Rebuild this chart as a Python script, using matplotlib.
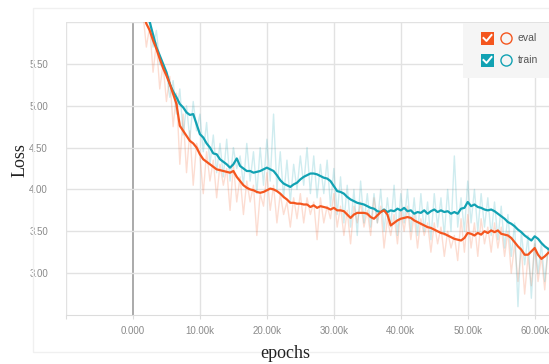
import matplotlib.pyplot as plt
from matplotlib.patches import Rectangle
from matplotlib.lines import Line2D
import numpy as np

# smoothed curves, one value every 0.5k steps
eval_start = 1.0
eval_y = [6.40, 6.12, 5.98, 5.90, 5.78, 5.68, 5.56, 5.45, 5.36, 5.26,
          5.14, 5.02, 4.76, 4.70, 4.64, 4.58, 4.55, 4.50, 4.42, 4.36,
          4.33, 4.30, 4.27, 4.24, 4.23, 4.22, 4.21, 4.20, 4.22, 4.15,
          4.10, 4.05, 4.02, 4.00, 3.99, 3.97, 3.96, 3.97, 3.99, 4.01,
          4.00, 3.98, 3.95, 3.91, 3.88, 3.84, 3.84, 3.83, 3.83, 3.82,
          3.82, 3.79, 3.81, 3.78, 3.80, 3.79, 3.78, 3.76, 3.78, 3.75,
          3.75, 3.74, 3.70, 3.66, 3.70, 3.72, 3.72, 3.72, 3.71, 3.67,
          3.65, 3.69, 3.73, 3.75, 3.70, 3.57, 3.60, 3.63, 3.65, 3.66,
          3.67, 3.66, 3.63, 3.61, 3.59, 3.57, 3.55, 3.54, 3.52, 3.50,
          3.48, 3.47, 3.45, 3.43, 3.41, 3.40, 3.39, 3.42, 3.48, 3.47,
          3.45, 3.48, 3.46, 3.50, 3.48, 3.51, 3.49, 3.51, 3.47, 3.46,
          3.45, 3.42, 3.37, 3.32, 3.28, 3.22, 3.22, 3.26, 3.30, 3.22,
          3.17, 3.20, 3.24, 3.27]

train_start = 2.0
train_y = [6.20, 6.00, 5.85, 5.70, 5.60, 5.50, 5.40, 5.26, 5.17, 5.10,
           5.02, 4.98, 4.92, 4.89, 4.90, 4.78, 4.66, 4.62, 4.55, 4.50,
           4.43, 4.42, 4.36, 4.33, 4.30, 4.26, 4.30, 4.37, 4.28, 4.25,
           4.22, 4.22, 4.20, 4.21, 4.22, 4.24, 4.26, 4.24, 4.22, 4.17,
           4.11, 4.07, 4.05, 4.03, 4.06, 4.08, 4.12, 4.15, 4.17, 4.19,
           4.19, 4.18, 4.16, 4.14, 4.13, 4.10, 4.04, 3.98, 3.97, 3.95,
           3.91, 3.88, 3.86, 3.84, 3.83, 3.82, 3.80, 3.78, 3.77, 3.74,
           3.73, 3.76, 3.73, 3.75, 3.74, 3.77, 3.75, 3.78, 3.74, 3.75,
           3.71, 3.73, 3.72, 3.75, 3.71, 3.74, 3.76, 3.73, 3.75, 3.73,
           3.74, 3.71, 3.73, 3.71, 3.77, 3.78, 3.85, 3.80, 3.82, 3.79,
           3.78, 3.76, 3.75, 3.76, 3.74, 3.71, 3.68, 3.65, 3.61, 3.59,
           3.56, 3.52, 3.49, 3.45, 3.42, 3.39, 3.44, 3.41, 3.36, 3.32,
           3.29, 3.26]

# raw (unsmoothed) values, every 0.5k steps from 0.5k
raw_start = 0.5
eval_raw = [6.6, 6.3, 6.1, 5.7, 5.95, 5.4, 5.75, 5.2, 5.5, 5.05,
            5.35, 4.75, 5.15, 4.3, 4.9, 4.2, 4.7, 4.05, 4.55, 4.4,
            3.95, 4.45, 4.1, 4.35, 3.9, 4.3, 4.05, 4.25, 3.75, 4.3,
            3.85, 4.15, 3.7, 4.1, 3.85, 4.05, 3.45, 3.95, 3.8, 4.2,
            3.75, 4.05, 3.6, 3.95, 3.7, 3.85, 3.55, 3.9, 3.65, 3.95,
            3.6, 3.9, 3.7, 3.85, 3.4, 3.9, 3.6, 3.8, 3.65, 3.95,
            3.55, 3.8, 3.45, 3.75, 3.35, 3.8, 3.6, 3.85, 3.55, 3.75,
            3.45, 3.9, 3.6, 3.8, 3.3, 3.65, 3.45, 3.7, 3.35, 3.75,
            3.5, 3.8, 3.4, 3.7, 3.3, 3.65, 3.45, 3.6, 3.25, 3.6,
            3.35, 3.55, 3.2, 3.5, 3.3, 3.45, 3.15, 3.65, 3.25, 3.7,
            3.3, 3.6, 3.2, 3.65, 3.35, 3.55, 3.25, 3.6, 3.3, 3.55,
            3.2, 3.5, 3.0, 3.35, 2.9, 3.3, 2.75, 3.2, 2.85, 3.35,
            2.9, 3.2, 2.8, 3.3]
train_raw = [6.7, 6.4, 6.35, 6.0, 6.1, 5.7, 5.9, 5.5, 5.45, 5.4,
             5.1, 5.3, 4.9, 5.2, 4.65, 5.0, 4.6, 5.05, 4.7, 4.9,
             4.45, 4.8, 4.3, 4.65, 4.2, 4.55, 4.15, 4.6, 4.1, 4.5,
             4.25, 4.4, 4.05, 4.55, 4.1, 4.45, 3.95, 4.5, 4.05, 4.6,
             4.1, 4.9, 4.0, 4.45, 3.9, 4.35, 3.85, 4.3, 4.0, 4.4,
             4.05, 4.5, 3.95, 4.4, 3.9, 4.3, 3.95, 4.35, 3.8, 4.25,
             3.7, 4.15, 3.6, 4.05, 3.55, 4.0, 3.45, 4.1, 3.6, 3.95,
             3.55, 3.95, 3.6, 4.0, 3.5, 3.9, 3.55, 4.05, 3.45, 3.95,
             3.6, 4.0, 3.5, 3.9, 3.45, 3.95, 3.5, 3.85, 3.4, 3.95,
             3.55, 3.9, 3.45, 4.0, 3.5, 4.4, 3.55, 3.9, 3.5, 4.1,
             3.6, 4.0, 3.5, 3.95, 3.55, 3.9, 3.45, 3.85, 3.4, 3.8,
             3.3, 3.7, 3.2, 3.6, 2.6, 3.5, 3.1, 3.45, 2.7, 3.4,
             3.0, 3.35, 2.9, 3.3]

x_ticks = [0, 10000, 20000, 30000, 40000, 50000, 60000]
x_labels = ['0.000', '10.00k', '20.00k', '30.00k', '40.00k', '50.00k', '60.00k']
y_ticks = [3.0, 3.5, 4.0, 4.5, 5.0, 5.5]
y_labels = ['3.00', '3.50', '4.00', '4.50', '5.00', '5.50']
series_names = ['eval', 'train']

ORANGE = '#f4561f'
TEAL = '#12a2b3'
W, H = 549, 364


def steps(start, n):
    # step positions (0.5k apart) for a series of n values
    return (start + 0.5 * np.arange(n)) * 1000


fig = plt.figure(figsize=(W / 100, H / 100), dpi=100)
fig.patch.set_facecolor('white')

def fx(px):
    return px / W

def fy(py):
    return 1 - py / H

# faint card outline
fig.add_artist(Rectangle((fx(33), fy(352)), fx(600) - fx(33), fy(8) - fy(352),
                         transform=fig.transFigure, fill=False, ec='#f0f0f0', lw=1))

ax = fig.add_axes([fx(66), fy(315), fx(549) - fx(66) + 0.002, fy(22) - fy(315)])
ax.set_xlim(-10000, 62300)
ax.set_ylim(2.5, 6.0)

ax.plot(steps(raw_start, len(eval_raw)), eval_raw, color=ORANGE, alpha=0.2, lw=1)
ax.plot(steps(raw_start, len(train_raw)), train_raw, color=TEAL, alpha=0.2, lw=1)
ax.plot(steps(train_start, len(train_y)), train_y, color=TEAL, lw=1.6)
ax.plot(steps(eval_start, len(eval_y)), eval_y, color=ORANGE, lw=1.6)

# grid lines
for xv in [-10000] + x_ticks:
    ax.axvline(xv, color='#aaaaaa' if xv == 0 else '#e2e2e2',
               lw=1.4 if xv == 0 else 1, zorder=0)
for yv in y_ticks + [6.0]:
    ax.axhline(yv, color='#e2e2e2', lw=1, zorder=0)

for s in ax.spines.values():
    s.set_visible(False)
ax.spines['bottom'].set_visible(True)
ax.spines['bottom'].set_color('#dcdcdc')

ax.set_xticks([-10000] + x_ticks)
ax.set_xticklabels([''] + x_labels)
ax.set_yticks(y_ticks)
ax.set_yticklabels(y_labels)
ax.tick_params(axis='x', length=3, color='#dcdcdc', labelsize=7, labelcolor='#8a8a8a', pad=5)
ax.tick_params(axis='y', length=0, labelsize=7, labelcolor='#8a8a8a', pad=13)
for lab in ax.get_xticklabels() + ax.get_yticklabels():
    lab.set_family('Liberation Sans')

fig.text(fx(20), fy(160), 'Loss', rotation=90, ha='center', va='center',
         family='Liberation Serif', fontsize=13, color='#222222')
fig.text(fx(285), fy(353), 'epochs', ha='center', va='center',
         family='Liberation Serif', fontsize=13, color='#222222')

# legend panel
fig.add_artist(Rectangle((fx(463), fy(78)), fx(560) - fx(463), fy(23) - fy(78),
                         transform=fig.transFigure, fc='#f5f5f5', ec='none'))
for name, col, cy in zip(series_names, [ORANGE, TEAL], [38, 60]):
    fig.add_artist(Rectangle((fx(481), fy(cy + 6.5)), fx(13), fy(cy - 6.5) - fy(cy + 6.5),
                             transform=fig.transFigure, fc=col, ec='none'))
    fig.add_artist(Line2D([fx(483.5), fx(486.5), fx(491.5)], [fy(cy), fy(cy + 3), fy(cy - 3)],
                          transform=fig.transFigure, color='white', lw=1.4))
    fig.add_artist(Line2D([fx(506)], [fy(cy)], transform=fig.transFigure, marker='o',
                          markersize=8, mfc='none', mec=col, mew=1, ls='none'))
    fig.text(fx(518), fy(cy), name, ha='left', va='center', fontsize=7.5,
             color='#555555', family='Liberation Sans')

fig.savefig('out.png', dpi=100)
